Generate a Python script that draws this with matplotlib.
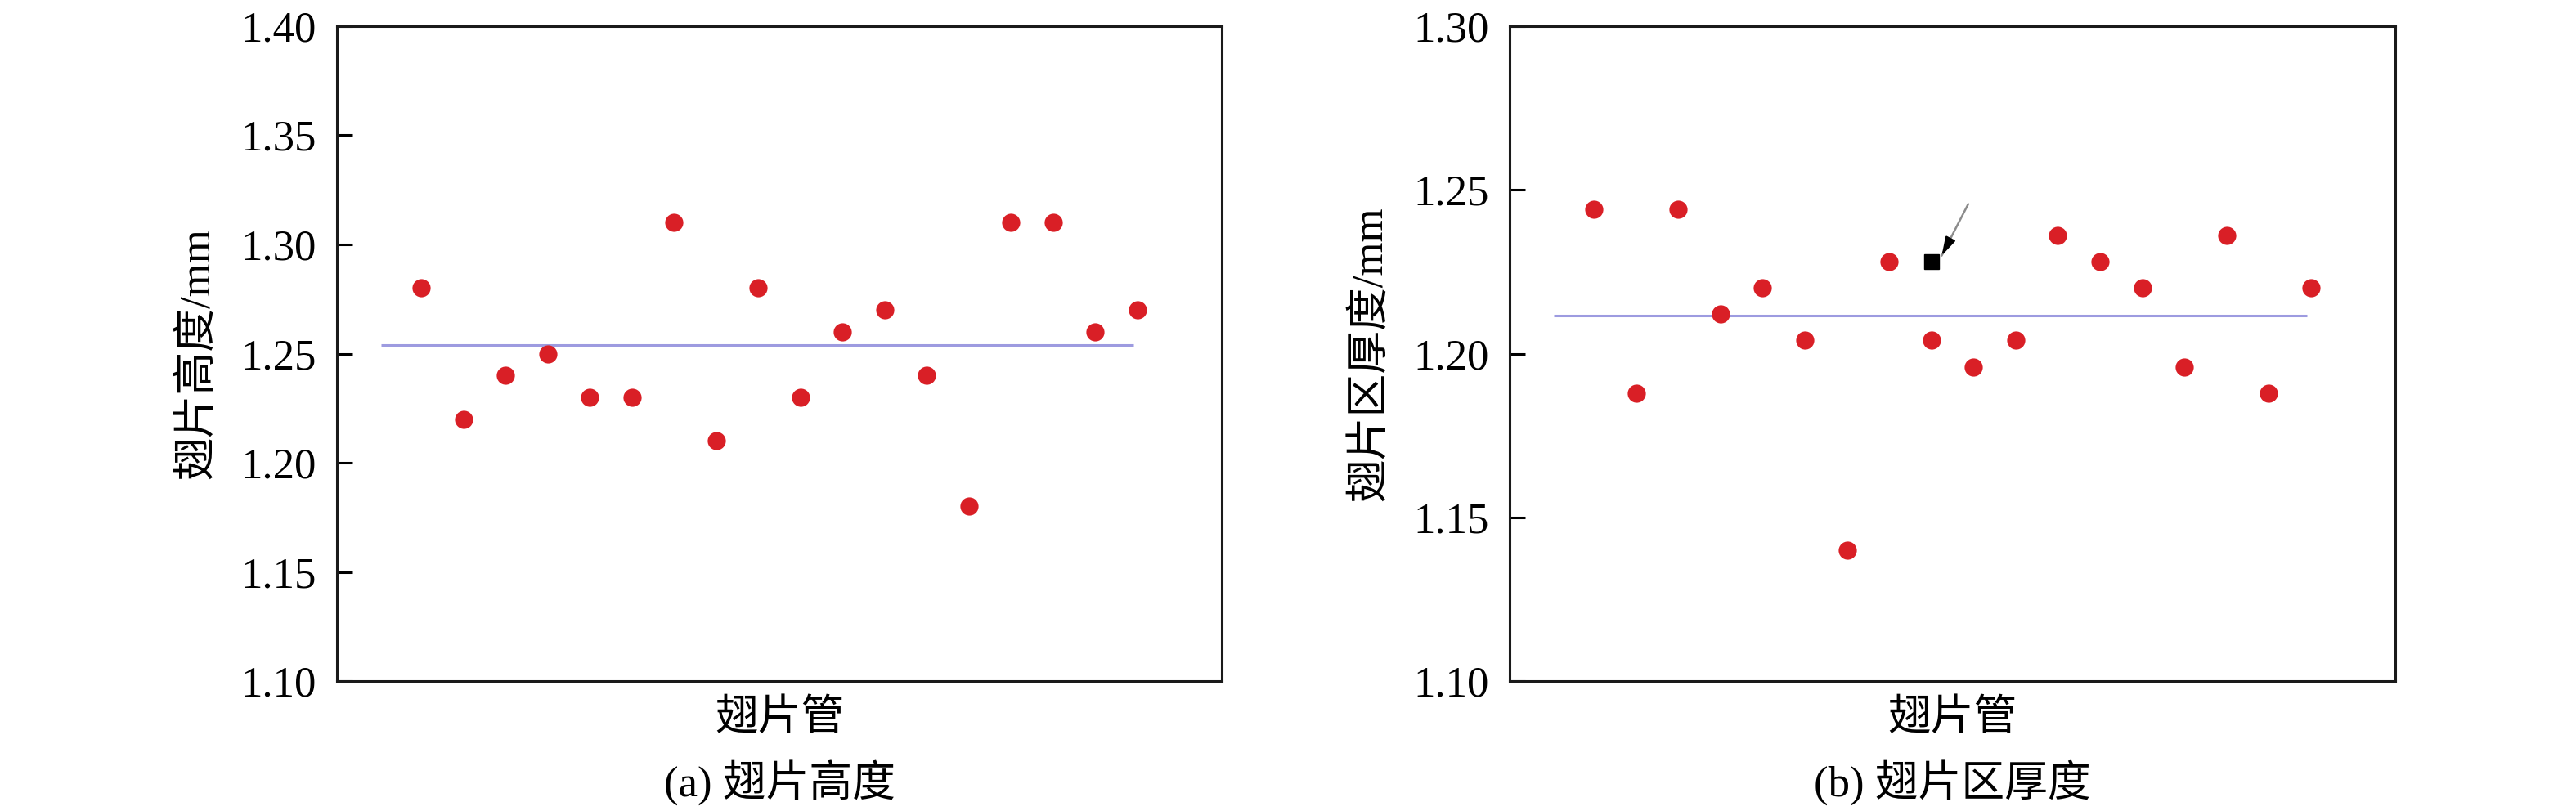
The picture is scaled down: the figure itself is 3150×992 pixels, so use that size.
import matplotlib
matplotlib.use("Agg")
import matplotlib.pyplot as plt

# 数据
tube_idx = list(range(1, 19))
fin_height = [1.28, 1.22, 1.24, 1.25, 1.23, 1.23, 1.31, 1.21, 1.28,
              1.23, 1.26, 1.27, 1.24, 1.18, 1.31, 1.31, 1.26, 1.27]
fin_thick = [1.244, 1.188, 1.244, 1.212, 1.220, 1.204, 1.140, 1.228, 1.204,
             1.196, 1.204, 1.236, 1.228, 1.220, 1.196, 1.236, 1.188, 1.220]
height_mean = 1.254
thick_mean = 1.2116
marked_x = 9
marked_y = 1.228

height_ticks = [1.10, 1.15, 1.20, 1.25, 1.30, 1.35, 1.40]
thick_ticks = [1.10, 1.15, 1.20, 1.25, 1.30]

xlabel = "翅片管"
ylabels = ["翅片高度/mm", "翅片区厚度/mm"]
captions = ["(a) 翅片高度", "(b) 翅片区厚度"]

fam = ["Liberation Serif", "Noto Sans CJK SC", "DejaVu Sans"]
plt.rcParams["font.family"] = fam
fs = 38
red = "#d91f26"
mean_color = "#9d9be0"

fig = plt.figure(figsize=(31.5, 9.92), dpi=100)
ax1 = fig.add_axes([412 / 3150, 159 / 992, 1082 / 3150, 801 / 992])
ax2 = fig.add_axes([1846 / 3150, 159 / 992, 1083 / 3150, 801 / 992])

panels = [
    (ax1, fin_height, height_mean, height_ticks, (1.10, 1.40)),
    (ax2, fin_thick, thick_mean, thick_ticks, (1.10, 1.30)),
]

for i, (ax, vals, mean, ticks, ylim) in enumerate(panels):
    ax.hlines(mean, 0.05, 17.9, color=mean_color, lw=2.2, zorder=1)
    ax.plot(tube_idx, vals, "o", color=red, ms=16, mec="none", zorder=3)
    ax.set_xlim(-1, 20)
    ax.set_ylim(*ylim)
    ax.set_xticks([])
    ax.set_yticks(ticks)
    ax.set_yticklabels([f"{t:.2f}" for t in ticks])
    ax.tick_params(axis="y", direction="in", length=14, width=2.2,
                   labelsize=fs, pad=18)
    for sp in ax.spines.values():
        sp.set_linewidth(2.2)
        sp.set_color("#1a1a1a")
    ax.text(0.5, -0.0587, xlabel, transform=ax.transAxes, ha="center",
            va="center", fontsize=fs)
    ax.text(0.5, -0.155, captions[i], transform=ax.transAxes, ha="center",
            va="center", fontsize=fs)
    ax.text(-0.157, 0.5, ylabels[i], transform=ax.transAxes, ha="center",
            va="center", rotation=90, fontsize=fs)

# 右图中标记的方块和箭头
ax2.plot([marked_x], [marked_y], "s", color="black", ms=13, zorder=4)
ax2.annotate("", xy=(9.22, 1.2293), xytext=(9.90, 1.2463),
             arrowprops=dict(arrowstyle="-", color="#8c8c8c", lw=1.8))
ax2.annotate("", xy=(9.22, 1.2293), xytext=(9.45, 1.2350),
             arrowprops=dict(arrowstyle="-|>,head_length=14,head_width=4",
                             mutation_scale=1, color="black", lw=1.5))

fig.savefig("out.png", dpi=100)
